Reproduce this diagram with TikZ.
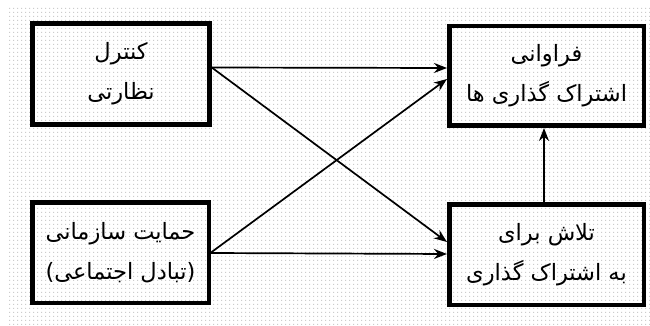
\documentclass[tikz,border=0pt]{standalone}
\usepackage{fontspec}
\usetikzlibrary{arrows.meta,patterns}
\newfontfamily\farsi[Script=Arabic]{DejaVu Sans}
\TeXXeTstate=1
\newcommand{\rtlline}[1]{\beginR #1\endR}

% fine screen of light dots behind the diagram
\pgfdeclarepatternformonly{screendots}{\pgfqpoint{0pt}{0pt}}{\pgfqpoint{4pt}{4pt}}{\pgfqpoint{4pt}{4pt}}{%
  \pgfpathrectangle{\pgfqpoint{1.5pt}{1.5pt}}{\pgfqpoint{1pt}{1pt}}\pgfusepath{fill}}

\begin{document}
\begin{tikzpicture}[x=1pt,y=-1pt,
  box/.style={draw=black, line width=4.5pt, inner sep=0pt, align=center,
    font=\farsi\fontsize{22.5}{40}\selectfont},
  arr/.style={draw=black, line width=1.7pt, -{Stealth[length=13pt,width=10pt]}}]
  \useasboundingbox (0,0) rectangle (650,326);
  \fill[white] (0,0) rectangle (650,326);
  \fill[pattern=screendots, pattern color=black!20] (8,8) rectangle (650,326);

  \node[box, minimum width=177pt, minimum height=101pt] (ctrl) at (121,74)
    {\rtlline{کنترل}\\\rtlline{نظارتی}};
  \node[box, minimum width=176.5pt, minimum height=100.5pt] (supp) at (120.5,252.5)
    {\rtlline{حمایت سازمانی}\\\rtlline{(تبادل اجتماعی)}};
  \node[box, minimum width=194.5pt, minimum height=99.5pt] (freq) at (546.5,76)
    {\rtlline{فراوانی}\\\rtlline{اشتراک گذاری ها}};
  \node[box, minimum width=194.5pt, minimum height=100.5pt] (effort) at (546.5,254.5)
    {\rtlline{تلاش برای}\\\rtlline{به اشتراک گذاری}};

  \draw[arr] ([yshift=6.5pt]ctrl.east) -- ([yshift=8pt]freq.west);
  \draw[arr] ([yshift=6.5pt]ctrl.east) -- ([yshift=12.5pt]effort.west);
  \draw[arr] (supp.east) -- ([yshift=-3pt]freq.west);
  \draw[arr] ([yshift=-0.5pt]supp.east) -- ([yshift=0.5pt]effort.west);
  \draw[arr] ([xshift=-2.5pt]effort.north) -- ([xshift=-2.5pt]freq.south);
\end{tikzpicture}
\end{document}
